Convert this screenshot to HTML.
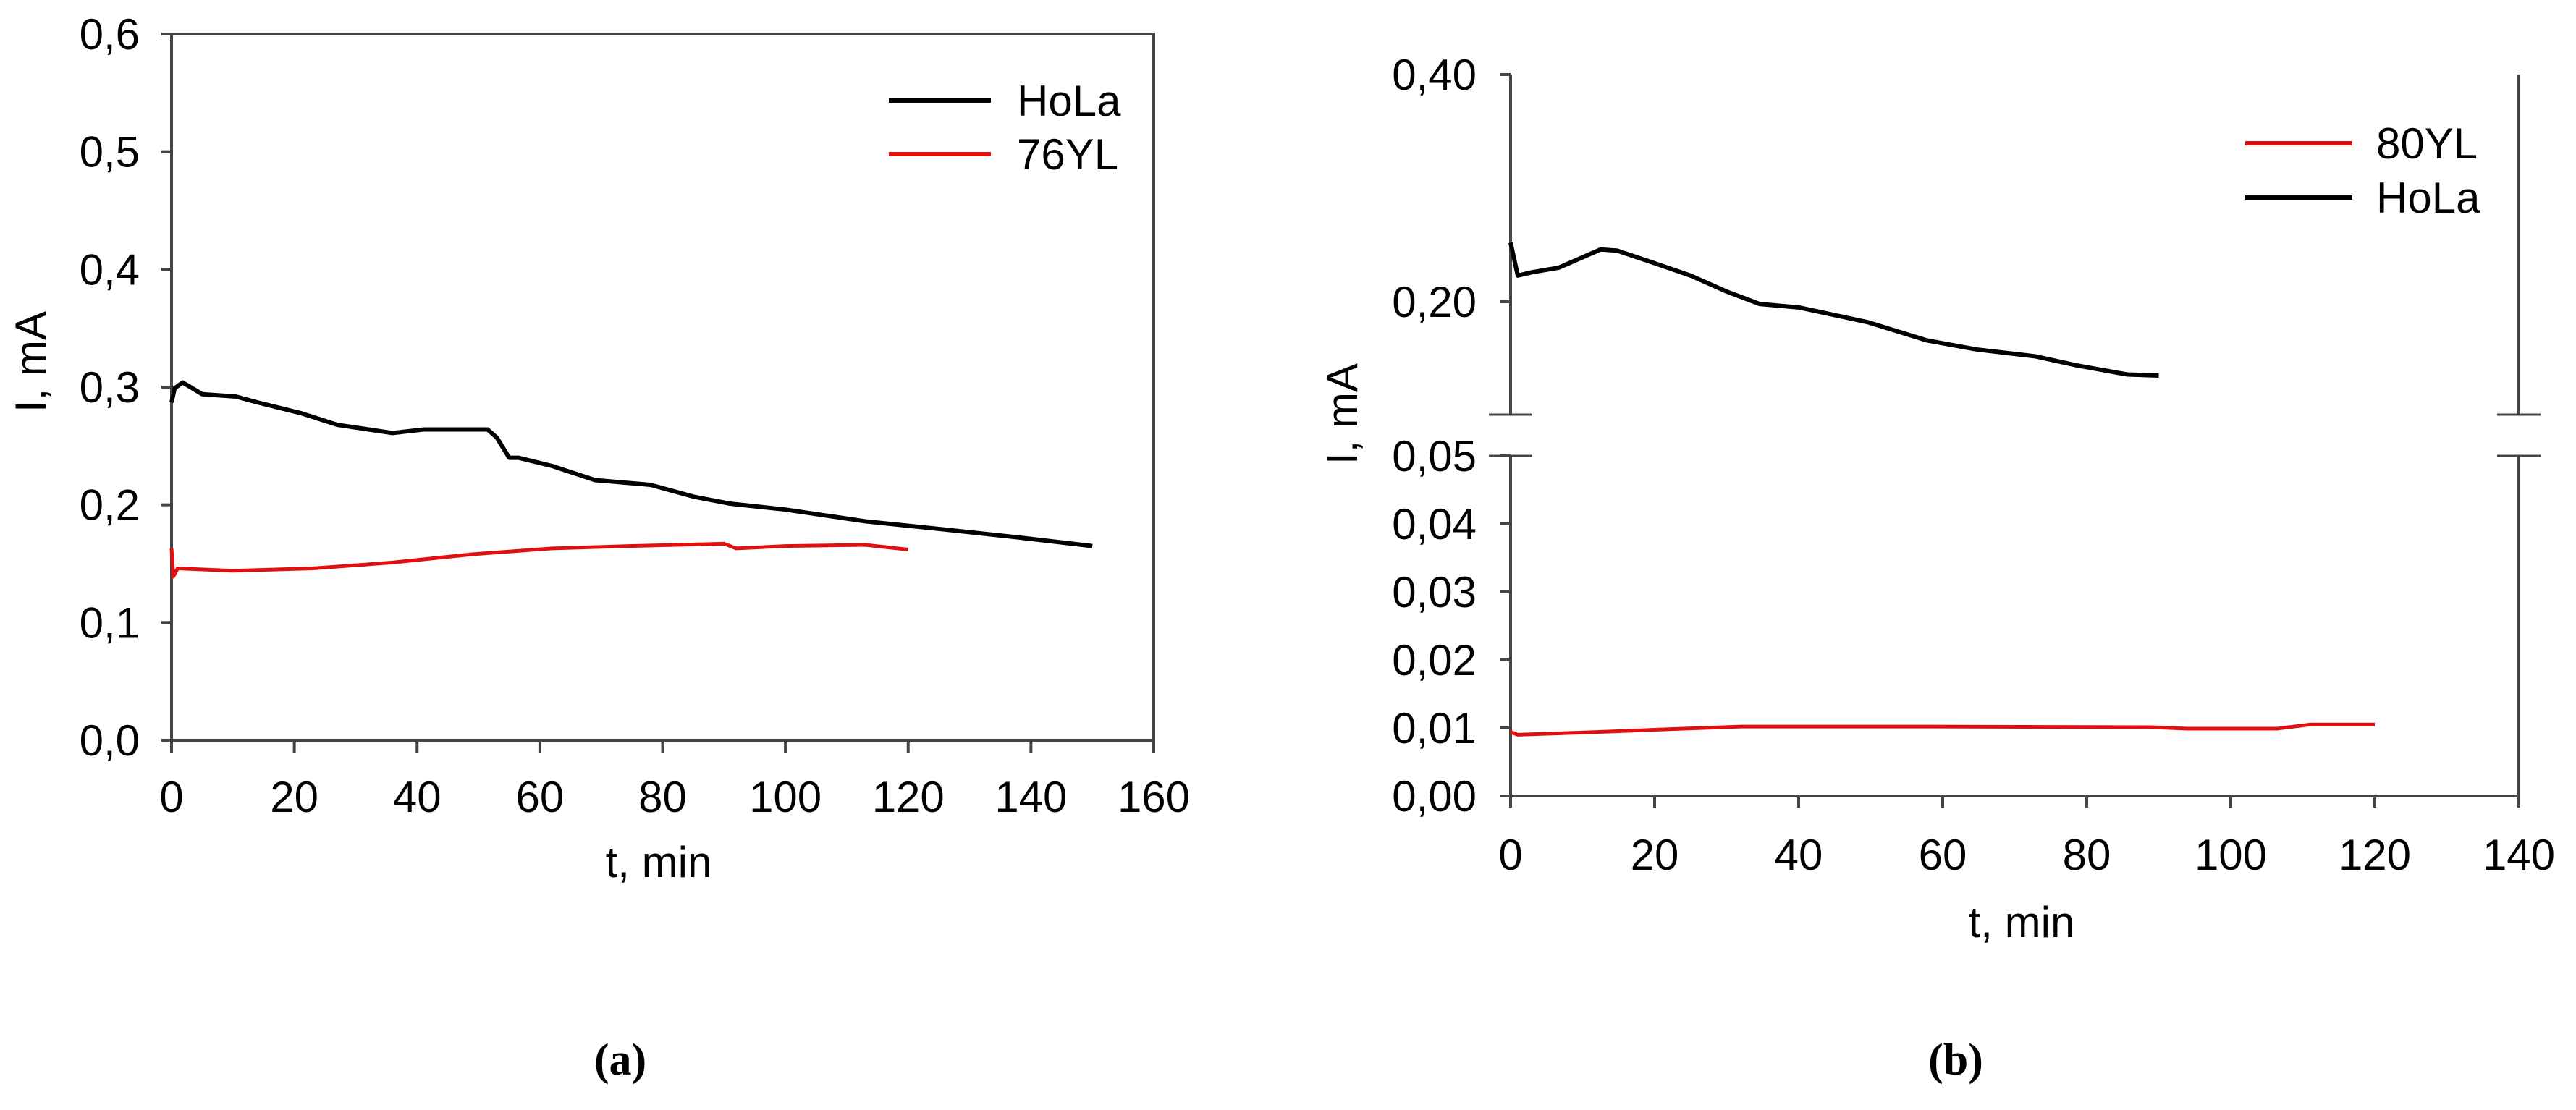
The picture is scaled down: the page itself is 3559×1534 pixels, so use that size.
<!DOCTYPE html>
<html><head><meta charset="utf-8">
<style>
html,body{margin:0;padding:0;background:#fff;}
svg{display:block;font-family:"Liberation Sans",Arial,sans-serif;}
</style></head>
<body>
<svg id="fig" width="3559" height="1534" viewBox="0 0 3559 1534" xmlns="http://www.w3.org/2000/svg">
<g id="chartA"></g>
<g id="chartB"></g>
<text x="857" y="1485" font-family="Liberation Serif, serif" font-weight="bold" font-size="62" text-anchor="middle">(a)</text>
<text x="2702" y="1485" font-family="Liberation Serif, serif" font-weight="bold" font-size="62" text-anchor="middle">(b)</text>
</svg>
<script>
// ---- Chart (a) data ----
const aXTicks = [0,20,40,60,80,100,120,140,160];
const aYTicks = [0,0.1,0.2,0.3,0.4,0.5,0.6];
const aYTickLabels = ["0,0","0,1","0,2","0,3","0,4","0,5","0,6"];
const aHoLaT = [0,0.5,1.8,5,10.5,14,21,27,36,41,51.5,53,55,56.5,62,69,78,85,91,100,113,126,138.5,150];
const aHoLaI = [0.287,0.299,0.304,0.294,0.292,0.287,0.278,0.268,0.261,0.264,0.264,0.257,0.240,0.240,0.233,0.221,0.217,0.207,0.201,0.196,0.186,0.179,0.172,0.165];
const a76T = [0,0.3,1,10,23,36,49,62,74.5,90,92,100,113,120];
const a76I = [0.163,0.139,0.146,0.144,0.146,0.151,0.158,0.163,0.165,0.167,0.163,0.165,0.166,0.162];
// ---- Chart (b) data ----
const bXTicks = [0,20,40,60,80,100,120,140];
const bUpperTicks = [0.20,0.40];
const bUpperTickLabels = ["0,20","0,40"];
const bLowerTicks = [0,0.01,0.02,0.03,0.04,0.05];
const bLowerTickLabels = ["0,00","0,01","0,02","0,03","0,04","0,05"];
const bHoLaT = [0,1,3,6.7,12.5,14.8,19.5,25,30,34.6,40,49.6,57.8,64.7,72.8,78.6,85.6,90];
const bHoLaI = [0.252,0.223,0.226,0.230,0.246,0.245,0.235,0.223,0.209,0.198,0.195,0.182,0.166,0.158,0.152,0.144,0.136,0.135];
const b80T = [0,1,12,24,32,59,89,94,106.5,111,120];
const b80I = [0.0094,0.0090,0.0094,0.0099,0.0102,0.0102,0.0101,0.0099,0.0099,0.0105,0.0105];

const NS="http://www.w3.org/2000/svg";
function mk(parent,tag,attrs,text){const e=document.createElementNS(NS,tag);for(const k in attrs)e.setAttribute(k,attrs[k]);if(text!==undefined)e.textContent=text;parent.appendChild(e);return e;}
const AX="#444";

// ---- Chart A ----
const A=document.getElementById('chartA');
const ax=t=>237+(t-0)/(160-0)*(1594-237);
const ay=v=>1023-(v-0)/(0.6-0)*(1023-47);
let e;
e=mk(A,'rect',{x:237,y:47,width:1594-237,height:1023-47,fill:'none',stroke:AX,'stroke-width':4});


aXTicks.forEach(t=>{
  e=mk(A,'line',{x1:ax(t),x2:ax(t),y1:1023,y2:1040,stroke:AX,'stroke-width':4});
  
  
  e=mk(A,'text',{x:ax(t),y:1122,'font-size':60,'text-anchor':'middle'},String(t));
  
  
});
aYTicks.forEach((v,i)=>{
  e=mk(A,'line',{x1:223,x2:237,y1:ay(v),y2:ay(v),stroke:AX,'stroke-width':4});
  
  
  e=mk(A,'text',{x:193,y:ay(v)+21,'font-size':60,'text-anchor':'end'},aYTickLabels[i]);
  
  
});
e=mk(A,'text',{x:910,y:1212,'font-size':60,'text-anchor':'middle'},'t, min');


e=mk(A,'text',{x:0,y:0,'font-size':60,'text-anchor':'middle',transform:'translate(63,500) rotate(-90)'},'I, mA');


e=mk(A,'polyline',{points:a76T.map((t,i)=>ax(t)+','+ay(a76I[i])).join(' '),fill:'none',stroke:'#e01010','stroke-width':5,'stroke-linejoin':'round'});


e=mk(A,'polyline',{points:aHoLaT.map((t,i)=>ax(t)+','+ay(aHoLaI[i])).join(' '),fill:'none',stroke:'#000','stroke-width':6,'stroke-linejoin':'round'});


e=mk(A,'line',{x1:1228,x2:1369,y1:139,y2:139,stroke:'#000','stroke-width':6});


e=mk(A,'text',{x:1405,y:160,'font-size':60},'HoLa');


e=mk(A,'line',{x1:1228,x2:1369,y1:213,y2:213,stroke:'#e01010','stroke-width':6});


e=mk(A,'text',{x:1405,y:234,'font-size':60},'76YL');



// ---- Chart B ----
const B=document.getElementById('chartB');
const L=2087,R=3480;
const bx=t=>L+(t-0)/(140-0)*(R-L);
const byU=v=>417-(v-0.20)/(0.40-0.20)*(417-103);
const byL=v=>1100-(v-0)/(0.05-0)*(1100-630);
[[L],[R]].forEach(([x])=>{
  e=mk(B,'line',{x1:x,x2:x,y1:103,y2:573,stroke:AX,'stroke-width':4});
  
  
  e=mk(B,'line',{x1:x,x2:x,y1:630,y2:1100,stroke:AX,'stroke-width':4});
  
  
  e=mk(B,'line',{x1:x-30,x2:x+30,y1:573,y2:573,stroke:AX,'stroke-width':3});
  
  
  e=mk(B,'line',{x1:x-30,x2:x+30,y1:630,y2:630,stroke:AX,'stroke-width':3});
  
  
});
e=mk(B,'line',{x1:L,x2:R,y1:1100,y2:1100,stroke:AX,'stroke-width':4});


bXTicks.forEach(t=>{
  e=mk(B,'line',{x1:bx(t),x2:bx(t),y1:1100,y2:1116,stroke:AX,'stroke-width':4});
  
  
  e=mk(B,'text',{x:bx(t),y:1202,'font-size':60,'text-anchor':'middle'},String(t));
  
  
});
bUpperTicks.forEach((v,i)=>{
  e=mk(B,'line',{x1:L-15,x2:L,y1:byU(v),y2:byU(v),stroke:AX,'stroke-width':4});
  
  
  e=mk(B,'text',{x:2040,y:byU(v)+21,'font-size':60,'text-anchor':'end'},bUpperTickLabels[i]);
  
  
});
bLowerTicks.forEach((v,i)=>{
  e=mk(B,'line',{x1:L-15,x2:L,y1:byL(v),y2:byL(v),stroke:AX,'stroke-width':4});
  
  
  e=mk(B,'text',{x:2040,y:byL(v)+21,'font-size':60,'text-anchor':'end'},bLowerTickLabels[i]);
  
  
});
e=mk(B,'text',{x:2793,y:1295,'font-size':60,'text-anchor':'middle'},'t, min');


e=mk(B,'text',{x:0,y:0,'font-size':60,'text-anchor':'middle',transform:'translate(1875,572) rotate(-90)'},'I, mA');


e=mk(B,'polyline',{points:b80T.map((t,i)=>bx(t)+','+byL(b80I[i])).join(' '),fill:'none',stroke:'#e01010','stroke-width':5,'stroke-linejoin':'round'});


e=mk(B,'polyline',{points:bHoLaT.map((t,i)=>bx(t)+','+byU(bHoLaI[i])).join(' '),fill:'none',stroke:'#000','stroke-width':6,'stroke-linejoin':'round'});


e=mk(B,'line',{x1:3102,x2:3250,y1:198,y2:198,stroke:'#e01010','stroke-width':6});


e=mk(B,'text',{x:3283,y:219,'font-size':60},'80YL');


e=mk(B,'line',{x1:3102,x2:3250,y1:273,y2:273,stroke:'#000','stroke-width':6});


e=mk(B,'text',{x:3283,y:294,'font-size':60},'HoLa');


</script>
</body></html>
